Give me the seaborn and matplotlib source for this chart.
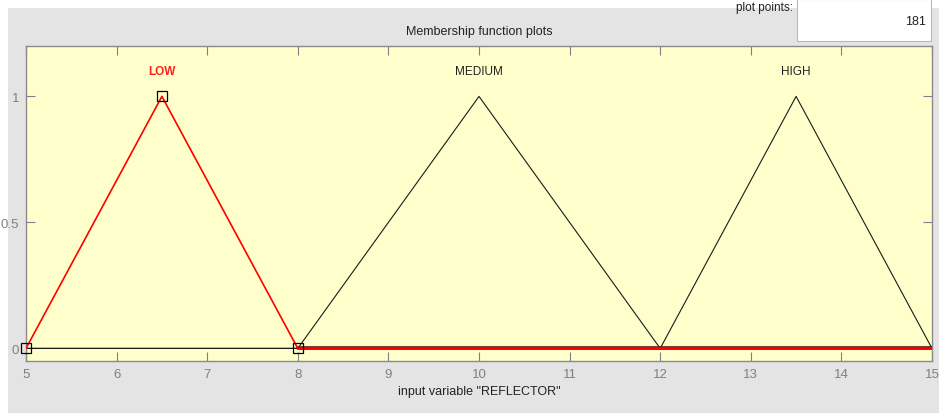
import numpy as np
import pandas as pd
import matplotlib
matplotlib.use("Agg")
import matplotlib.pyplot as plt
import matplotlib.patheffects as pe
from matplotlib.patches import Rectangle
import seaborn as sns

# Membership functions of the input variable REFLECTOR (triangular, vertices)
mf_names = ["LOW", "MEDIUM", "HIGH"]
low_x = [5.0, 6.5, 8.0, 15.0]
low_y = [0.0, 1.0, 0.0, 0.0]
medium_x = [5.0, 8.0, 10.0, 12.0, 15.0]
medium_y = [0.0, 0.0, 1.0, 0.0, 0.0]
high_x = [5.0, 12.0, 13.5, 15.0]
high_y = [0.0, 0.0, 1.0, 0.0]
peak_x = [6.5, 10.0, 13.5]
label_y = 1.1
selected_vertices_x = [5.0, 6.5, 8.0]
selected_vertices_y = [0.0, 1.0, 0.0]
x_ticks = [5, 6, 7, 8, 9, 10, 11, 12, 13, 14, 15]
y_ticks = [0, 0.5, 1]
plot_points = "181"

sns.set_theme(style="white")
plt.rcParams["font.family"] = ["Liberation Sans", "DejaVu Sans"]

W, H = 939, 414
fig = plt.figure(figsize=(W / 100, H / 100), dpi=100, facecolor="white")

# gray window panel
fig.patches.append(Rectangle((8 / W, 0), (W - 8) / W, (H - 9) / H,
                             transform=fig.transFigure, facecolor="#e4e4e4",
                             edgecolor="none", zorder=-10))
# plot points edit box
fig.patches.append(Rectangle((797 / W, (H - 42) / H), 134 / W, 42 / H,
                             transform=fig.transFigure, facecolor="white",
                             edgecolor="#b8b8b8", linewidth=0.8, zorder=-5))
fig.text(926 / W, (H - 22) / H, plot_points, ha="right", va="center",
         fontsize=9, color="#222222")
fig.text(764 / W, (H - 8) / H, "plot points:", ha="center", va="center",
         fontsize=8.5, color="#222222")

ax = fig.add_axes([26 / W, 52 / H, 906 / W, 315 / H])
ax.set_facecolor("#ffffcc")

df_med = pd.DataFrame({"x": medium_x, "y": medium_y})
df_high = pd.DataFrame({"x": high_x, "y": high_y})
df_low = pd.DataFrame({"x": low_x, "y": low_y})

sns.lineplot(data=df_med, x="x", y="y", sort=False, color="#1a1a1a",
             linewidth=0.8, ax=ax)
sns.lineplot(data=df_high, x="x", y="y", sort=False, color="#1a1a1a",
             linewidth=0.8, ax=ax)
# flat tail of LOW lies on top of the other curves' zero segments
ax.plot(low_x[2:], low_y[2:], color="#ff0000", linewidth=1.3, zorder=3,
        path_effects=[pe.Stroke(linewidth=2.6, foreground="#5a1010"),
                      pe.Normal()])
sns.lineplot(data=df_low, x="x", y="y", sort=False, color="#ff0000",
             linewidth=1.2, ax=ax, zorder=4)

ax.plot(selected_vertices_x, selected_vertices_y, linestyle="none",
        marker="s", markersize=7, markerfacecolor="none",
        markeredgecolor="black", markeredgewidth=0.9, zorder=5,
        clip_on=False)

for name, px in zip(mf_names, peak_x):
    ax.text(px, label_y, name, ha="center", va="center", fontsize=8.5,
            color="#ff2020" if name == "LOW" else "#222222",
            fontweight="bold" if name == "LOW" else "normal")

ax.set_xlim(5, 15)
ax.set_ylim(-0.05, 1.2)
ax.set_xticks(x_ticks)
ax.set_yticks(y_ticks)
ax.set_xticklabels([str(t) for t in x_ticks])
ax.set_yticklabels(["0", "0.5", "1"])
ax.tick_params(axis="both", direction="in", length=6.5, width=0.8,
               color="#808080", labelcolor="#808080", labelsize=9.5,
               top=True, right=True, bottom=True, left=True)
ax.tick_params(axis="x", pad=5)
ax.tick_params(axis="y", pad=5)
for s in ax.spines.values():
    s.set_color("#8a8a8a")
    s.set_linewidth(1.0)

ax.set_xlabel('input variable "REFLECTOR"', fontsize=9, color="#222222",
              labelpad=4)
ax.set_ylabel("")
ax.set_title("Membership function plots", fontsize=9, color="#222222", pad=9)

fig.savefig("out.png", dpi=100, facecolor=fig.get_facecolor())
